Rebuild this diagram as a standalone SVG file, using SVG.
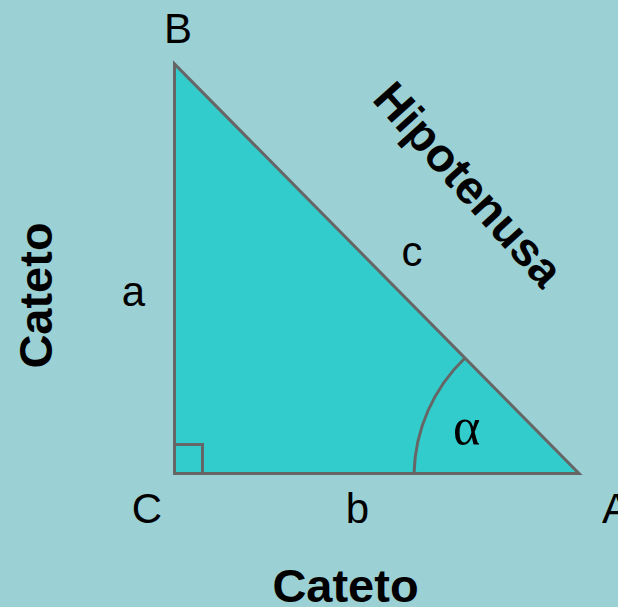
<svg xmlns="http://www.w3.org/2000/svg" width="618" height="607" viewBox="0 0 618 607">
<style>
.ln{fill:none;stroke:#666666;stroke-width:3}
.lbl{font-family:"Liberation Sans",Arial,sans-serif;font-size:42px;fill:#000;text-anchor:middle}
.big{font-family:"Liberation Sans",Arial,sans-serif;font-size:47px;font-weight:bold;fill:#000;text-anchor:middle}
.gr{font-family:"Liberation Serif","Times New Roman",serif;font-size:52px;fill:#000;text-anchor:middle}
</style>
<rect width="618" height="607" fill="#9BD0D5"/>
<g id="triangle">
<polygon points="174.5,64 174.5,473.5 579,473.5" fill="#33CCCC" stroke="#666666" stroke-width="3"/>
<rect class="ln" x="174.5" y="444.5" width="28" height="29"/>
<path class="ln" d="M414,473.5 A165,165 0 0 1 464.5,358.5"/>
</g>
<g id="labels">
<text class="lbl" x="178" y="42.5">B</text>
<text class="lbl" x="147" y="523">C</text>
<text class="lbl" x="602" y="523" style="text-anchor:start">A</text>
<text class="lbl" x="133.5" y="306">a</text>
<text class="lbl" x="357.5" y="523">b</text>
<text class="lbl" x="412" y="266">c</text>
<text class="gr" x="466.5" y="444">α</text>
</g>
<g id="side-labels">
<text class="big" transform="translate(51.5,295.5) rotate(-90)">Cateto</text>
<text class="big" x="345.5" y="602">Cateto</text>
<text class="big" transform="translate(456.5,195) rotate(48)">Hipotenusa</text>
</g>
</svg>
